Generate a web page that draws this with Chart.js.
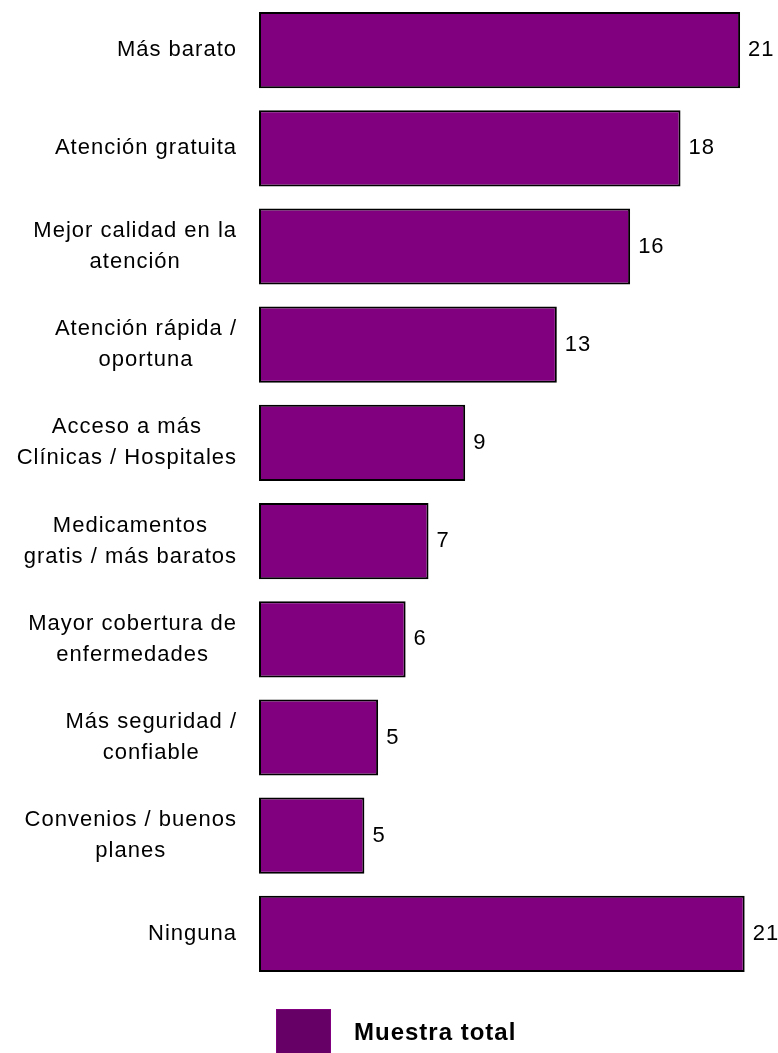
<!DOCTYPE html>
<html>
<head>
<meta charset="utf-8">
<title>Muestra total</title>
<script src="https://cdn.jsdelivr.net/npm/chart.js@4"></script>
<style>
  html, body { margin: 0; padding: 0; background: #fff; }
  #wrap { width: 778px; height: 1053px; }
</style>
</head>
<body>
<div id="wrap"><canvas id="chart" width="778" height="1053"></canvas></div>
<script>
// Razones (porcentaje de menciones)
const categories = [
  'Más barato',
  'Atención gratuita',
  ['Mejor calidad en la', 'atención'],
  ['Atención rápida /', 'oportuna'],
  ['Acceso a más', 'Clínicas / Hospitales'],
  ['Medicamentos', 'gratis / más baratos'],
  ['Mayor cobertura de', 'enfermedades'],
  ['Más seguridad /', 'confiable'],
  ['Convenios / buenos', 'planes'],
  'Ninguna'
];
const values = [21.0, 18.4, 16.2, 13.0, 9.0, 7.4, 6.4, 5.2, 4.6, 21.2];
const seriesName = 'Muestra total';

const barColor = '#800080';
const swatchColor = '#660066';
const textFont = '22px "Liberation Sans", Arial, sans-serif';

// nombres de categoría, valores y leyenda dibujados a mano
const textPlugin = {
  id: 'textPlugin',
  afterDatasetsDraw(chart) {
    const ctx = chart.ctx;
    const area = chart.chartArea;
    const yScale = chart.scales.y;
    const meta = chart.getDatasetMeta(0);

    ctx.save();
    ctx.fillStyle = '#000';
    ctx.font = textFont;
    ctx.letterSpacing = '1px';
    ctx.textBaseline = 'middle';

    // etiquetas del eje: bloque alineado a la derecha, líneas centradas
    const rightEdge = area.left - 22;
    ctx.textAlign = 'center';
    categories.forEach((cat, i) => {
      const lines = Array.isArray(cat) ? cat : [cat];
      const y = yScale.getPixelForValue(i);
      const widest = Math.max(...lines.map(l => ctx.measureText(l).width));
      const cx = rightEdge - widest / 2;
      lines.forEach((line, j) => {
        ctx.fillText(line, cx, y + (j - (lines.length - 1) / 2) * 31);
      });
    });

    // valores al final de cada barra
    ctx.textAlign = 'left';
    meta.data.forEach((bar, i) => {
      ctx.fillText(String(Math.round(values[i])), bar.x + 8, bar.y);
    });

    // leyenda
    const boxX = 276, boxY = area.bottom + 26;
    ctx.fillStyle = swatchColor;
    ctx.fillRect(boxX, boxY, 55, 55);
    ctx.strokeStyle = barColor;
    ctx.lineWidth = 1;
    ctx.strokeRect(boxX + 0.5, boxY + 0.5, 54, 54);
    ctx.fillStyle = '#000';
    ctx.font = 'bold 24px "Liberation Sans", Arial, sans-serif';
    ctx.textBaseline = 'alphabetic';
    ctx.fillText(seriesName, 354, boxY + 31);

    ctx.restore();
  }
};

new Chart(document.getElementById('chart').getContext('2d'), {
  type: 'bar',
  data: {
    labels: categories,
    datasets: [{
      label: seriesName,
      data: values,
      backgroundColor: barColor,
      borderColor: '#000',
      borderWidth: 2,
      borderSkipped: false,
      barPercentage: 0.776,
      categoryPercentage: 1.0
    }]
  },
  options: {
    indexAxis: 'y',
    responsive: false,
    animation: false,
    layout: {
      padding: { left: 259, right: 15, top: 1, bottom: 70 }
    },
    scales: {
      x: { display: false, min: 0, max: 22 },
      y: { display: false }
    },
    plugins: {
      legend: { display: false },
      tooltip: { enabled: false }
    }
  },
  plugins: [textPlugin]
});
</script>
</body>
</html>
